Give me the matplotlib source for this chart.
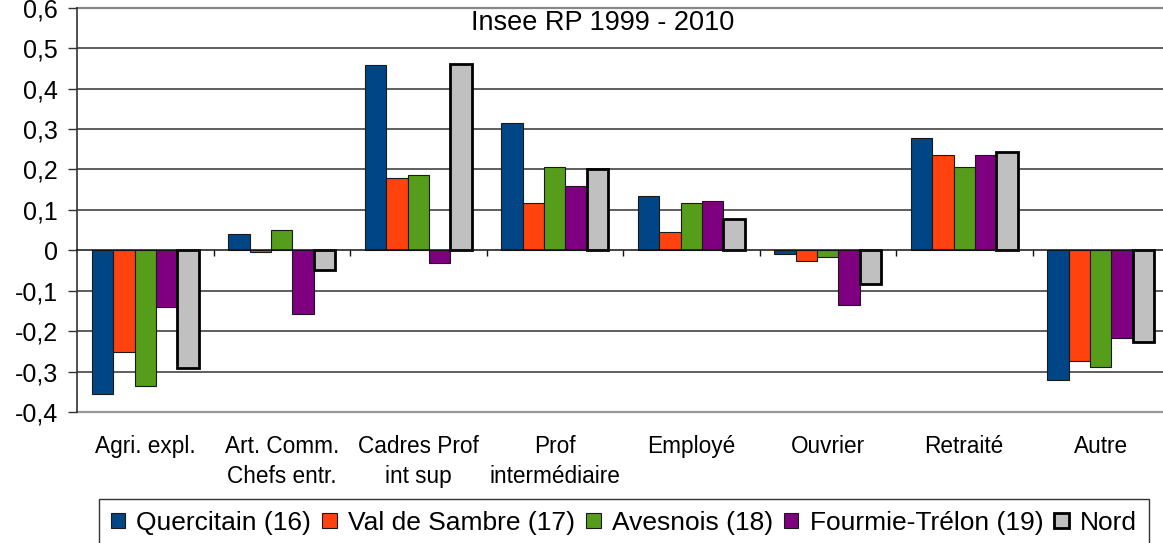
import matplotlib
matplotlib.use("Agg")
import matplotlib.pyplot as plt
from matplotlib.ticker import FuncFormatter
import numpy as np

plt.rcParams['font.family'] = ['Liberation Sans', 'DejaVu Sans']

categories = ["Agri. expl.", "Art. Comm.\nChefs entr.", "Cadres Prof\nint sup",
              "Prof\nintermédiaire", "Employé", "Ouvrier", "Retraité", "Autre"]
series_names = ["Quercitain (16)", "Val de Sambre (17)", "Avesnois (18)",
                "Fourmie-Trélon (19)", "Nord"]
quercitain = [-0.355, 0.041, 0.459, 0.315, 0.135, -0.010, 0.279, -0.320]
val_de_sambre = [-0.252, -0.005, 0.180, 0.118, 0.046, -0.026, 0.237, -0.274]
avesnois = [-0.335, 0.051, 0.187, 0.207, 0.118, -0.016, 0.206, -0.289]
fourmie_trelon = [-0.140, -0.156, -0.032, 0.160, 0.123, -0.135, 0.237, -0.217]
nord = [-0.290, -0.048, 0.460, 0.200, 0.078, -0.083, 0.242, -0.227]
series = [quercitain, val_de_sambre, avesnois, fourmie_trelon, nord]
colors = ["#004586", "#ff420e", "#579d1c", "#7e0080", "#c0c0c0"]
yticks = [-0.4, -0.3, -0.2, -0.1, 0, 0.1, 0.2, 0.3, 0.4, 0.5, 0.6]
subtitle = "Insee RP 1999 - 2010"

W, H = 1163, 543
fig = plt.figure(figsize=(W / 100, H / 100), dpi=100)
left_px, right_px, top_px, bot_px = 77, 1169, 7.6, 412.3
ax = fig.add_axes([left_px / W, 1 - bot_px / H, (right_px - left_px) / W, (bot_px - top_px) / H])

x = np.arange(len(categories))
w = 0.157
handles = []
for k, (vals, c) in enumerate(zip(series, colors)):
    if k == 4:
        ec, lw = "black", 2.0
    else:
        ec, lw = "#1a1a1a", 0.8
    b = ax.bar(x + (k - 2) * w, vals, width=w, color=c, edgecolor=ec, linewidth=lw,
               zorder=3, label=series_names[k])
    handles.append(b)

ax.set_xlim(-0.5, 7.5)
ax.set_ylim(-0.4, 0.6)
ax.set_yticks(yticks)


def fmt(v, p):
    if abs(v) < 1e-9:
        return "0"
    return ("%.1f" % v).replace(".", ",")


ax.yaxis.set_major_formatter(FuncFormatter(fmt))
ax.tick_params(axis='y', labelsize=18, length=6.5, width=1, direction='out', pad=7, color='#333333')

for yv in yticks:
    if -0.4 < yv < 0.6 and yv != 0:
        ax.axhline(yv, color='#333333', lw=1.1, zorder=1)
ax.axhline(0.6, color='#888888', lw=1.6, zorder=1, clip_on=False)
ax.axhline(-0.4, color='#999999', lw=1.6, zorder=1, clip_on=False)

for s in ['top', 'right']:
    ax.spines[s].set_visible(False)
ax.spines['left'].set_color('#333333')
ax.spines['left'].set_linewidth(1.2)
ax.spines['bottom'].set_position(('data', 0))
ax.spines['bottom'].set_color('#111111')
ax.spines['bottom'].set_linewidth(1.1)
ax.spines['bottom'].set_zorder(4)
ax.set_xticks(np.arange(0.5, 7.5, 1.0))
ax.set_xticklabels([])
ax.tick_params(axis='x', length=4, width=1, direction='out', color='#111111')

for i, lab in enumerate(categories):
    ax.annotate(lab, xy=(i, 0), xycoords=('data', 'axes fraction'),
                xytext=(0, -23), textcoords='offset pixels', ha='center', va='top',
                fontsize=16.3, linespacing=1.35, color='black')

fig.text(603 / W, 1 - 23 / H, subtitle, ha='center', va='center', fontsize=19.5, color='black')

leg = fig.legend(handles=handles, labels=series_names, loc='upper left',
                 bbox_to_anchor=(99 / W, 1 - 499 / H), ncol=5, fontsize=19,
                 frameon=True, fancybox=False, borderaxespad=0, borderpad=0.45,
                 handlelength=0.55, handleheight=0.55, handletextpad=0.42,
                 columnspacing=0.42)
leg.get_frame().set_edgecolor('black')
leg.get_frame().set_linewidth(1.0)

fig.savefig("out.png", dpi=100)
